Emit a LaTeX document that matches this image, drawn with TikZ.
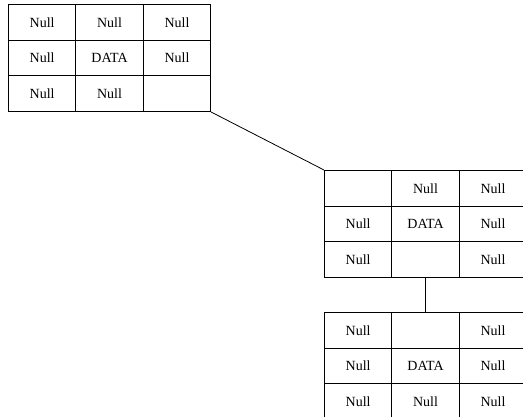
\documentclass[tikz,border=0pt]{standalone}
\usepackage{fontspec}
\setmainfont{Liberation Serif}
\begin{document}
\begin{tikzpicture}[x=1pt,y=-1pt,
  cell/.style={draw=black,line width=0.9pt,inner sep=0pt,minimum width=67.4pt,minimum height=35.7pt,font=\fontsize{14}{14}\selectfont,anchor=north west},
  link/.style={draw=black,line width=0.8pt}]
\useasboundingbox (0,0) rectangle (523,417);
\clip (0,0) rectangle (523,417);
% grid 1
\node[cell] (a11) at (8,4) {Null};
\node[cell] (a12) at (75.4,4) {Null};
\node[cell] (a13) at (142.8,4) {Null};
\node[cell] (a21) at (8,39.7) {Null};
\node[cell] (a22) at (75.4,39.7) {DATA};
\node[cell] (a23) at (142.8,39.7) {Null};
\node[cell] (a31) at (8,75.4) {Null};
\node[cell] (a32) at (75.4,75.4) {Null};
\node[cell] (a33) at (142.8,75.4) {};
% grid 2
\node[cell] (b11) at (324,170) {};
\node[cell] (b12) at (391.4,170) {Null};
\node[cell] (b13) at (458.8,170) {Null};
\node[cell] (b21) at (324,205.7) {Null};
\node[cell] (b22) at (391.4,205.7) {DATA};
\node[cell] (b23) at (458.8,205.7) {Null};
\node[cell] (b31) at (324,241.4) {Null};
\node[cell] (b32) at (391.4,241.4) {};
\node[cell] (b33) at (458.8,241.4) {Null};
% grid 3
\node[cell] (c11) at (324,312) {Null};
\node[cell] (c12) at (391.4,312) {};
\node[cell] (c13) at (458.8,312) {Null};
\node[cell] (c21) at (324,347.7) {Null};
\node[cell] (c22) at (391.4,347.7) {DATA};
\node[cell] (c23) at (458.8,347.7) {Null};
\node[cell] (c31) at (324,383.4) {Null};
\node[cell] (c32) at (391.4,383.4) {Null};
\node[cell] (c33) at (458.8,383.4) {Null};
% connectors
\draw[link] (a33.south east) -- (b11.north west);
\draw[link] (b32.south) -- (c12.north);
\end{tikzpicture}
\end{document}
